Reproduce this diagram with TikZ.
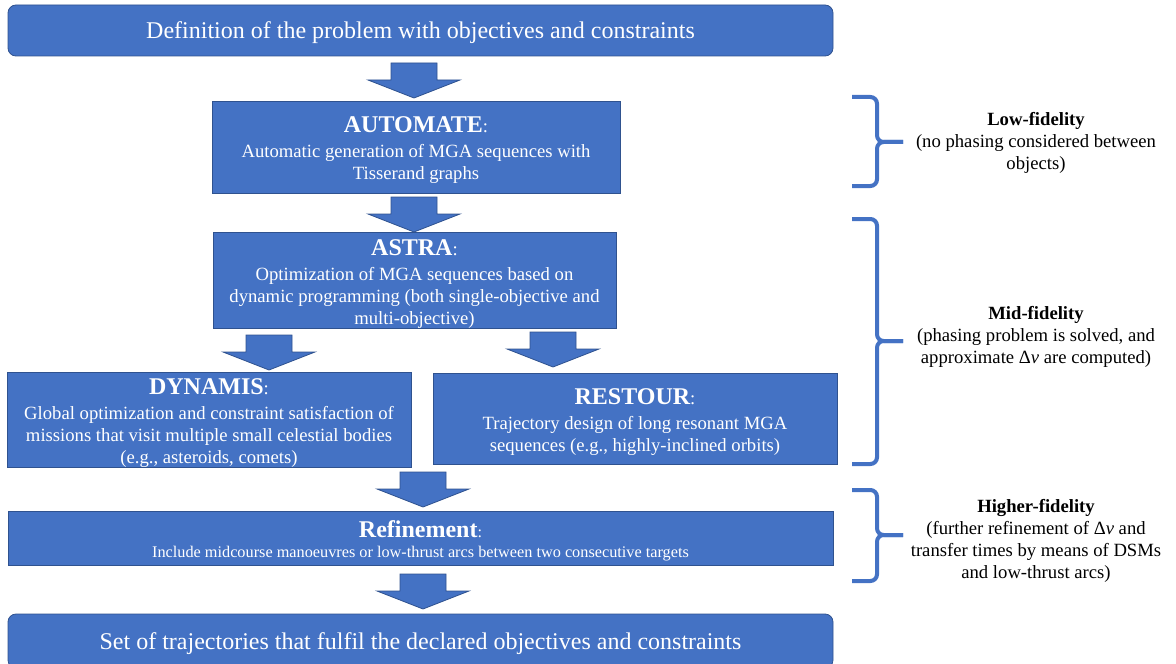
\documentclass[tikz,border=0pt]{standalone}
\usepackage{fontspec}
\setmainfont{Liberation Serif}
\usetikzlibrary{positioning}

\definecolor{boxblue}{HTML}{4472C4}
\definecolor{boxline}{HTML}{2F528F}

\newcommand{\boxtitle}[1]{{\fontsize{18}{20}\selectfont\rule{0pt}{17pt}\bfseries #1}}
\newcommand{\blockarrow}[1]{\filldraw[blockarr] (#1) ++(-23,0) -- ++(46,0) -- ++(0,17) -- ++(23,0) -- ++(-46,18) -- ++(-46,-18) -- ++(23,0) -- cycle;}

\begin{document}
\begin{tikzpicture}[x=0.75pt,y=-0.75pt]
		\tikzset{box/.style = {draw=boxline,fill=boxblue,text=white,align=center,inner sep=0pt,line width=0.6pt,font=\fontsize{14}{16.5}\selectfont}}
		\tikzset{endbox/.style = {box,rounded corners=6pt,text depth=0pt,font=\fontsize{18}{21}\selectfont}}
		\tikzset{blockarr/.style = {draw=boxline,fill=boxblue,line width=0.6pt,line join=miter}}
		\tikzset{brace/.style = {draw=boxblue,line width=3pt,rounded corners=5pt}}
		\tikzset{fidelity/.style = {align=center,font=\fontsize{14}{16.5}\selectfont}}

		\useasboundingbox (0,0) rectangle (1176,663);

		% problem definition and result
		\node[endbox,minimum width=618.75pt,minimum height=38.25pt] (def) at (420.5,30.5){Definition of the problem with objectives and constraints};
		\node[endbox,minimum width=618.75pt,minimum height=40.5pt] (result) at (420.5,641){Set of trajectories that fulfil the declared objectives and constraints};

		% tools
		\node[box,minimum width=306pt,minimum height=69pt] (automate) at (416,147){\boxtitle{AUTOMATE}:\\[2pt]Automatic generation of MGA sequences with\\Tisserand graphs};
		\node[box,minimum width=302.25pt,minimum height=68.25pt] (astra) at (414.5,280.5){\boxtitle{ASTRA}:\\[2pt]Optimization of MGA sequences based on\\dynamic programming (both single-objective and\\multi-objective)};
		\node[box,minimum width=303pt,minimum height=69pt] (dynamis) at (209,420){\boxtitle{DYNAMIS}:\\[2pt]Global optimization and constraint satisfaction of\\missions that visit multiple small celestial bodies\\(e.g., asteroids, comets)};
		\node[box,minimum width=303pt,minimum height=68.25pt] (restour) at (635,418.5){\boxtitle{RESTOUR}:\\[2pt]Trajectory design of long resonant MGA\\sequences (e.g., highly-inclined orbits)};
		\node[box,minimum width=618.75pt,minimum height=40.5pt,font=\fontsize{12.2}{14}\selectfont] (refine) at (420.5,538){\boxtitle{Refinement}:\\[1pt]Include midcourse manoeuvres or low-thrust arcs between two consecutive targets};

		% block arrows
		\coordinate (a1) at (414,63);
		\coordinate (a2) at (414,197);
		\coordinate (a3) at (269,335);
		\coordinate (a4) at (553,332);
		\coordinate (a5) at (423,472);
		\coordinate (a6) at (423,574);
		\blockarrow{a1}
		\blockarrow{a2}
		\blockarrow{a3}
		\blockarrow{a4}
		\blockarrow{a5}
		\blockarrow{a6}

		% braces
		\draw[brace] (852,97) -| (877,142) -- (903,142);
		\draw[brace] (903,142) -- (877,142) |- (852,186);
		\draw[brace] (852,219) -| (877,341) -- (903,341);
		\draw[brace] (903,341) -- (877,341) |- (852,464);
		\draw[brace] (852,490) -| (877,535) -- (903,535);
		\draw[brace] (903,535) -- (877,535) |- (852,581);

		% fidelity levels
		\node[fidelity] (low) at (1036,143){\textbf{Low-fidelity}\\(no phasing considered between\\objects)};
		\node[fidelity] (mid) at (1036,337){\textbf{Mid-fidelity}\\(phasing problem is solved, and\\approximate Δ\textit{v} are computed)};
		\node[fidelity] (high) at (1036,541){\textbf{Higher-fidelity}\\(further refinement of Δ\textit{v} and\\transfer times by means of DSMs\\and low-thrust arcs)};
	\end{tikzpicture}
\end{document}
